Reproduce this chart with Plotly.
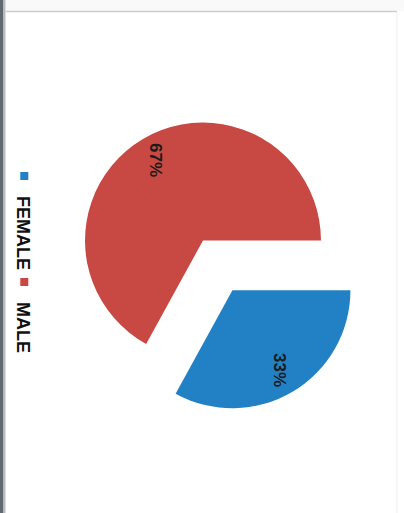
import math
import plotly.graph_objects as go

# ---- data ----
labels = ["FEMALE", "MALE"]
values = [33, 67]
colors = ["#2280c5", "#c84943"]
pulls = [0.49, 0.0]

# unrotated canvas (the page shows it turned 90 degrees clockwise)
W, H = 513, 404


def px(x):
    return x / W


def py(y):
    return 1 - y / H


cx, cy, half = 240.5, 201.0, 175.8  # pie box centre / half size in px
r = half / (1 + max(pulls))

fig = go.Figure()
fig.add_trace(
    go.Pie(
        labels=labels,
        values=values,
        sort=False,
        direction="clockwise",
        rotation=0,
        pull=pulls,
        marker=dict(colors=colors, line=dict(width=0)),
        textinfo="none",
        hoverinfo="skip",
        showlegend=False,
        domain=dict(x=[px(cx - half), px(cx + half)],
                    y=[py(cy + half), py(cy - half)]),
    )
)

# legend entries with small square keys
for lab, col in zip(labels, colors):
    fig.add_trace(go.Scatter(x=[None], y=[None], mode="markers", name=lab,
                             marker=dict(symbol="square", size=8, color=col),
                             hoverinfo="skip"))

# percentage labels placed from the pie geometry
total = sum(values)
annotations = []
cum = 0.0
for v, p in zip(values, pulls):
    mid = math.radians((cum + v / 2) / total * 360)
    cum += v
    dx, dy = math.sin(mid), -math.cos(mid)
    sx = cx + p * r * dx
    sy = cy + p * r * dy
    tx = sx + 0.79 * r * dx
    ty = sy + 0.79 * r * dy
    annotations.append(dict(
        x=px(tx), y=py(ty), xref="paper", yref="paper",
        text=f"{round(v / total * 100)}%", showarrow=False,
        xanchor="center", yanchor="middle",
        font=dict(family="Liberation Sans, Arial, sans-serif", size=17,
                  color="#1a1a1a", weight="bold"),
    ))

shapes = [
    # screen-edge artefacts of the photographed page
    dict(type="rect", xref="paper", yref="paper", x0=0, x1=1,
         y0=py(H), y1=py(H - 3.5), fillcolor="#63686c", line=dict(width=0),
         layer="above"),
    dict(type="rect", xref="paper", yref="paper", x0=0, x1=1,
         y0=py(H - 3.5), y1=py(H - 5.5), fillcolor="#b9bcbe", line=dict(width=0),
         layer="above"),
    dict(type="rect", xref="paper", yref="paper", x0=0, x1=px(11),
         y0=py(H - 5.5), y1=1, fillcolor="#f9f9f9", line=dict(width=0),
         layer="below"),
    dict(type="line", xref="paper", yref="paper", x0=px(11.5), x1=px(11.5),
         y0=py(H - 5.5), y1=py(7), line=dict(color="#cdcdcd", width=1.5)),
    dict(type="line", xref="paper", yref="paper", x0=px(12), x1=1,
         y0=py(7), y1=py(7), line=dict(color="#eeeeee", width=1)),
]

fig.update_layout(
    width=W,
    height=H,
    margin=dict(l=0, r=0, t=0, b=0),
    paper_bgcolor="white",
    plot_bgcolor="rgba(0,0,0,0)",
    xaxis=dict(visible=False),
    yaxis=dict(visible=False),
    showlegend=True,
    legend=dict(
        orientation="h",
        x=px(156), xanchor="left",
        y=py(380), yanchor="middle",
        entrywidth=61,
        font=dict(family="Liberation Sans, Arial, sans-serif", size=18,
                  color="#111111", weight="bold"),
        bgcolor="rgba(0,0,0,0)",
        itemclick=False,
        itemdoubleclick=False,
    ),
    annotations=annotations,
    shapes=shapes,
)

post = """
var gd = document.getElementById('{plot_id}');
document.documentElement.style.overflow = 'hidden';
document.body.style.margin = '0';
document.body.style.overflow = 'hidden';
gd.style.position = 'absolute';
gd.style.left = '0px';
gd.style.top = '0px';
gd.style.transformOrigin = '0 0';
gd.style.transform = 'translate(404px,0px) rotate(90deg)';
"""

fig.write_html("out.html", config={"displayModeBar": False, "responsive": False},
               post_script=post)
